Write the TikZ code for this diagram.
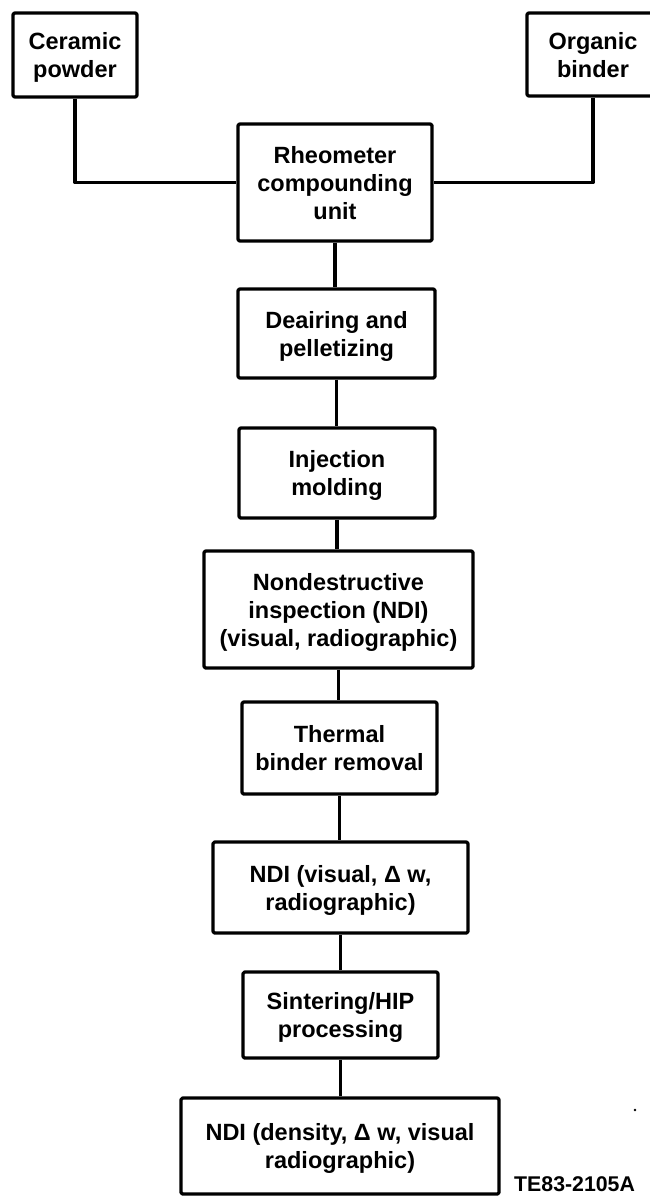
\documentclass[tikz,border=0pt]{standalone}
\usepackage{fontspec}
\setmainfont{Liberation Sans}
\begin{document}
\begin{tikzpicture}[x=1pt,y=-1pt,
  box/.style={draw, line width=3.2pt, line join=round, rounded corners=1.5pt, inner sep=0pt,
    align=center, font=\fontsize{23.5}{28}\selectfont\bfseries, text depth=0pt},
  link/.style={line width=3.2pt, line join=round}]
\useasboundingbox (0,0) rectangle (649,1196);
\node[box, minimum width=124, minimum height=84] (cer) at (75,55) {Ceramic\\powder};
\node[box, minimum width=132, minimum height=83] (org) at (593,54.5) {Organic\\binder};
\node[box, minimum width=194, minimum height=117] (rheo) at (335,182.5) {Rheometer\\compounding\\unit};
\node[box, minimum width=197, minimum height=89] (deair) at (336.5,333.5) {Deairing and\\pelletizing};
\node[box, minimum width=196, minimum height=90] (inj) at (337,473) {Injection\\molding};
\node[box, minimum width=269, minimum height=117] (ndia) at (338.5,609.5) {Nondestructive\\inspection (NDI)\\(visual, radiographic)};
\node[box, minimum width=195, minimum height=92] (therm) at (339.5,748) {Thermal\\binder removal};
\node[box, minimum width=255, minimum height=91] (ndib) at (340.5,887.5) {NDI (visual, Δ w,\\radiographic)};
\node[box, minimum width=195, minimum height=86] (sint) at (340.5,1015) {Sintering/HIP\\processing};
\node[box, minimum width=318, minimum height=96] (ndic) at (340,1146) {NDI (density, Δ w, visual\\radiographic)};
\node[anchor=base west, inner sep=0pt, font=\fontsize{21.3}{24}\selectfont\bfseries] (tag) at (514,1191) {TE83-2105A};
\fill (635,1110) circle (1.3);
\draw[link] (cer.south) |- (rheo.west);
\draw[link] (org.south) |- (rheo.east);
\draw[link] (rheo.south) -- (rheo.south |- deair.north);
\draw[link] (deair.south) -- (deair.south |- inj.north);
\draw[link] (inj.south) -- (inj.south |- ndia.north);
\draw[link] (ndia.south) -- (ndia.south |- therm.north);
\draw[link] (therm.south) -- (therm.south |- ndib.north);
\draw[link] (ndib.south) -- (ndib.south |- sint.north);
\draw[link] (sint.south) -- (sint.south |- ndic.north);
\end{tikzpicture}
\end{document}
